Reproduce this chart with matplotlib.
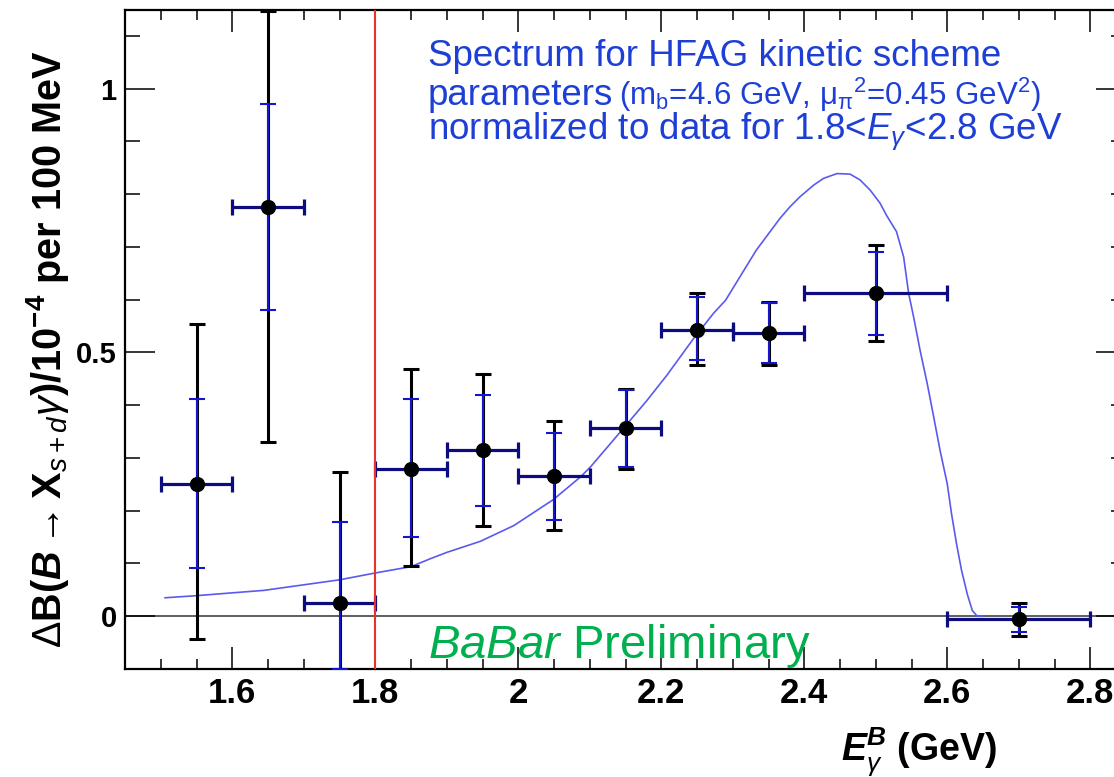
import numpy as np
import matplotlib
matplotlib.use("Agg")
import matplotlib.pyplot as plt
from matplotlib.ticker import MultipleLocator, FixedLocator

# fonts: Helvetica-like everywhere, maths in the same family
plt.rcParams['font.family'] = ['Liberation Sans', 'DejaVu Sans']
plt.rcParams['mathtext.fontset'] = 'custom'
plt.rcParams['mathtext.rm'] = 'Liberation Sans'
plt.rcParams['mathtext.it'] = 'Liberation Sans:italic'
plt.rcParams['mathtext.bf'] = 'Liberation Sans:bold'
plt.rcParams['mathtext.bfit'] = 'Liberation Sans:bold:italic'
plt.rcParams['mathtext.sf'] = 'Liberation Sans'

# measured spectrum, 100 MeV bins below 2.4 GeV, 200 MeV above
e_gamma = [1.55, 1.65, 1.75, 1.85, 1.95, 2.05, 2.15, 2.25, 2.35, 2.50, 2.70]
bin_lo = [0.05, 0.05, 0.05, 0.05, 0.05, 0.05, 0.05, 0.05, 0.05, 0.10, 0.10]
bin_hi = [0.05, 0.05, 0.05, 0.05, 0.05, 0.05, 0.05, 0.05, 0.05, 0.10, 0.10]
dB = [0.251, 0.776, 0.025, 0.280, 0.316, 0.266, 0.356, 0.543, 0.537, 0.613, -0.006]
# total errors (black) and statistical errors (blue)
tot_up = [0.302, 0.372, 0.248, 0.188, 0.144, 0.104, 0.074, 0.069, 0.059, 0.091, 0.032]
tot_dn = [0.295, 0.445, 0.125, 0.185, 0.145, 0.103, 0.076, 0.066, 0.060, 0.091, 0.032]
stat_up = [0.160, 0.195, 0.153, 0.131, 0.103, 0.082, 0.072, 0.062, 0.057, 0.078, 0.023]
stat_dn = [0.159, 0.196, 0.125, 0.129, 0.107, 0.083, 0.073, 0.058, 0.057, 0.080, 0.024]

# lower edge of the normalisation window
fit_lo = 1.8

# kinetic scheme prediction, normalised to the data in 1.8-2.8 GeV
model_e = [1.506, 1.55, 1.644, 1.75, 1.80, 1.85, 1.877, 1.90, 1.947, 1.994, 2.049,
           2.087, 2.101, 2.147, 2.18, 2.208, 2.245, 2.273, 2.29, 2.333, 2.366,
           2.380, 2.394, 2.413, 2.427, 2.446, 2.464, 2.478, 2.492, 2.506, 2.515,
           2.529, 2.539, 2.546, 2.553, 2.562, 2.572, 2.581, 2.590, 2.600, 2.606,
           2.613, 2.620, 2.628, 2.635, 2.642, 2.65]
model_b = [0.035, 0.039, 0.049, 0.069, 0.082, 0.094, 0.109, 0.121, 0.142, 0.172, 0.221,
           0.264, 0.283, 0.356, 0.409, 0.457, 0.526, 0.574, 0.599, 0.694, 0.754,
           0.776, 0.795, 0.817, 0.830, 0.839, 0.838, 0.827, 0.808, 0.783, 0.760,
           0.729, 0.681, 0.612, 0.567, 0.504, 0.441, 0.378, 0.314, 0.251, 0.194,
           0.137, 0.087, 0.042, 0.011, 0.0, 0.0]

W, H = 1114, 777
fig = plt.figure(figsize=(W / 100, H / 100), dpi=100)
ax = fig.add_axes([125 / W, 1 - 669 / H, 1001 / W, 659.5 / H])

ax.set_xlim(1.45, 2.85)
ax.set_ylim(-0.1, 1.15)

ax.axhline(0, color='#333333', lw=1.1, zorder=1)
# threshold line sits on top of everything, including the top tick at 1.8
ax.axvline(fit_lo, color='#e8332b', lw=1.5, zorder=10)

ax.plot(model_e, model_b, color='#5a5af0', lw=1.2, zorder=2)

ax.errorbar(e_gamma, dB, yerr=[tot_dn, tot_up], fmt='none', ecolor='black',
            elinewidth=2.2, capsize=6, capthick=2.2, zorder=3)
ax.errorbar(e_gamma, dB, yerr=[stat_dn, stat_up], fmt='none', ecolor='#1414d2',
            elinewidth=1.5, capsize=6, capthick=1.5, zorder=4)
ax.errorbar(e_gamma, dB, xerr=[bin_lo, bin_hi], fmt='none', ecolor='#0c0c80',
            elinewidth=2.3, capsize=6, capthick=2.3, zorder=4)
ax.plot(e_gamma, dB, 'o', color='black', ms=10, zorder=5)

# ROOT-style frame: inward ticks on all four sides
for s in ax.spines.values():
    s.set_linewidth(1.6)
ax.xaxis.set_major_locator(MultipleLocator(0.2))
ax.xaxis.set_minor_locator(MultipleLocator(0.05))
ax.yaxis.set_major_locator(FixedLocator([0, 0.5, 1]))
ax.yaxis.set_minor_locator(MultipleLocator(0.1))
ax.tick_params(axis='both', which='both', direction='in', top=True, right=True, width=1.1)
ax.tick_params(axis='x', which='major', length=16, pad=6, labelsize=25)
ax.tick_params(axis='x', which='minor', length=7.5)
ax.tick_params(axis='y', which='major', length=21.5, pad=6, labelsize=21)
ax.tick_params(axis='y', which='minor', length=10.8)
ax.set_xticks([1.6, 1.8, 2.0, 2.2, 2.4, 2.6, 2.8])
ax.set_xticklabels(['1.6', '1.8', '2', '2.2', '2.4', '2.6', '2.8'])
ax.set_yticklabels(['0', '0.5', '1'])
for lab in ax.get_xticklabels() + ax.get_yticklabels():
    lab.set_fontweight('bold')

fig.text(48 / W, 1 - 349 / H,
         r'$\mathrm{\Delta}$B($\mathbfit{B}\rightarrow$X$_{\mathit{s+d}}\mathit{\gamma}$)/10$^{\mathbf{-4}}$ per 100 MeV',
         rotation=90, ha='center', va='center', fontsize=28.5, fontweight='bold')
fig.text(997 / W, 1 - 761 / H, r'$\mathbfit{E}_{\gamma}^{\mathbfit{B}}$ (GeV)',
         ha='right', va='baseline', fontsize=27, fontweight='bold')

blue = '#1e3fd6'
fig.text(428 / W, 1 - 66 / H, 'Spectrum for HFAG kinetic scheme',
         color=blue, fontsize=26.5, va='baseline')
fig.text(428 / W, 1 - 105 / H, 'parameters', color=blue, fontsize=26.5, va='baseline')
fig.text(619 / W, 1 - 105 / H,
         r'(m$_\mathrm{b}$=4.6 GeV, μ$_{\mathrm{\pi}}$$^2$=0.45 GeV$^2$)',
         color=blue, fontsize=22.5, va='baseline')
fig.text(428 / W, 1 - 139 / H, r'normalized to data for 1.8<$\mathit{E}_{\mathit{\gamma}}$<2.8 GeV',
         color=blue, fontsize=26.5, va='baseline')

fig.text(428 / W, 1 - 658 / H, r'$\mathit{BaBar}$ Preliminary',
         color='#00b04f', fontsize=34, va='baseline')

fig.savefig('out.png', dpi=100)
